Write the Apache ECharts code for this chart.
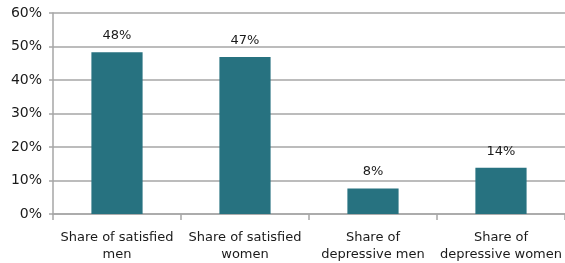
<!DOCTYPE html>
<html>
<head>
<meta charset="utf-8">
<script src="https://cdn.jsdelivr.net/npm/echarts@6/dist/echarts.min.js"></script>
<style>
  html, body { margin: 0; padding: 0; background: #fff; }
  #chart { width: 565px; height: 263px; }
</style>
</head>
<body>
<div id="chart"></div>
<script>
// data
const categories = [
  'Share of satisfied\nmen',
  'Share of satisfied\nwomen',
  'Share of\ndepressive men',
  'Share of\ndepressive women'
];
const shares = [48.3, 46.9, 7.6, 13.8];
const yTicks = [0, 10, 20, 30, 40, 50, 60];

const chart = echarts.init(document.getElementById('chart'));

const textColor = '#1a1a1a';
const lineColor = '#a6a6a6';

chart.setOption({
  animation: false,
  grid: { left: 53, right: 0, top: 13, bottom: 48 },
  xAxis: {
    type: 'category',
    data: categories,
    axisLine: { show: true, lineStyle: { color: lineColor, width: 1.5 } },
    axisTick: { show: true, length: 6, lineStyle: { color: lineColor, width: 1.5 } },
    axisLabel: {
      color: textColor,
      fontFamily: 'DejaVu Sans',
      fontSize: 13,
      lineHeight: 17,
      margin: 15,
      interval: 0
    }
  },
  yAxis: {
    type: 'value',
    min: yTicks[0],
    max: yTicks[yTicks.length - 1],
    interval: 10,
    axisLine: { show: true, lineStyle: { color: lineColor, width: 1.5 } },
    axisTick: { show: true, length: 4, lineStyle: { color: lineColor, width: 1.5 } },
    splitLine: { lineStyle: { color: lineColor, width: 1.5 } },
    axisLabel: {
      color: textColor,
      fontFamily: 'DejaVu Sans',
      fontSize: 14,
      margin: 11,
      formatter: v => v + '%'
    }
  },
  series: [{
    type: 'bar',
    data: shares,
    barWidth: '40%',
    itemStyle: { color: '#277280' },
    label: {
      show: true,
      position: 'top',
      distance: 10,
      color: textColor,
      fontFamily: 'DejaVu Sans',
      fontSize: 13,
      formatter: p => Math.round(p.value) + '%'
    }
  }]
});
</script>
</body>
</html>
